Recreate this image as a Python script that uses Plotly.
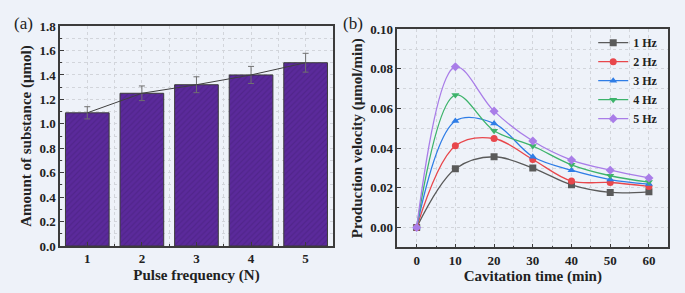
import plotly.graph_objects as go

# Panel (a)
pulse_freq = [1, 2, 3, 4, 5]
amount = [1.09, 1.25, 1.32, 1.40, 1.50]
amount_err = [0.05, 0.06, 0.065, 0.07, 0.077]

# Panel (b)
cav_time = [0, 10, 20, 30, 40, 50, 60]
series_names = ["1 Hz", "2 Hz", "3 Hz", "4 Hz", "5 Hz"]
v_1hz = [0.0, 0.0296, 0.0357, 0.0300, 0.0215, 0.0177, 0.0180]
v_2hz = [0.0, 0.0412, 0.0449, 0.0343, 0.0234, 0.0227, 0.0207]
v_3hz = [0.0, 0.0537, 0.0525, 0.0357, 0.0289, 0.0242, 0.0219]
v_4hz = [0.0, 0.0668, 0.0488, 0.0411, 0.0316, 0.0261, 0.0229]
v_5hz = [0.0, 0.0811, 0.0587, 0.0436, 0.0340, 0.0289, 0.0250]
series_vals = [v_1hz, v_2hz, v_3hz, v_4hz, v_5hz]
colors = ["#5a5a5a", "#e8474c", "#2f7de6", "#3db36b", "#a97de8"]
symbols = ["square", "circle", "triangle-up", "triangle-down", "diamond"]

FONT = "Liberation Serif"
BG = "#eef2f9"
AX = "#3c3c3c"
GRID = "#d2d5db"

fig = go.Figure()

fig.add_trace(go.Bar(
    x=pulse_freq, y=amount, width=0.8,
    marker=dict(color="#5b2a9b", line=dict(color="#3a3a3a", width=1),
                pattern=dict(shape="/", fgcolor="#47207c", size=4, solidity=0.3)),
    error_y=dict(type="data", array=amount_err, color="#707070", thickness=1, width=3),
    xaxis="x", yaxis="y", showlegend=False,
))
fig.add_trace(go.Scatter(
    x=pulse_freq, y=amount, mode="lines",
    line=dict(color="#404040", width=1),
    xaxis="x", yaxis="y", showlegend=False,
))

for name, vals, c, s in zip(series_names, series_vals, colors, symbols):
    fig.add_trace(go.Scatter(
        x=cav_time, y=vals, name=name, mode="lines+markers",
        line=dict(color=c, width=1.3, shape="spline", smoothing=1.0),
        marker=dict(color=c, symbol=s, size=7),
        xaxis="x2", yaxis="y2",
    ))

tickfont = dict(family=FONT, size=13, color="#222", weight="bold")
titlefont = dict(family=FONT, size=15, color="#222", weight="bold")

common = dict(showline=True, linecolor=AX, linewidth=1.5, mirror=True,
              ticks="inside", ticklen=4, tickcolor=AX, tickfont=tickfont,
              showgrid=True, gridcolor=GRID, griddash="dot", gridwidth=1,
              zeroline=False, automargin=False)

fig.update_layout(
    width=685, height=293,
    margin=dict(l=0, r=0, t=0, b=0, autoexpand=False),
    paper_bgcolor=BG, plot_bgcolor=BG,
    font=dict(family=FONT, color="#222"),
    bargap=0.2,
    xaxis=dict(domain=[0.0876, 0.486], anchor="y", range=[0.5, 5.5], dtick=1,
               title=dict(text="Pulse frequency (N)", font=titlefont, standoff=4),
               minor=dict(dtick=0.5, ticks="inside", ticklen=2, tickcolor=AX,
                          showgrid=True, gridcolor=GRID, griddash="dot"),
               **common),
    yaxis=dict(domain=[0.1604, 0.911], anchor="x", range=[0, 1.8], dtick=0.2,
               tickformat=".1f",
               title=dict(text="Amount of substance (μmol)", font=titlefont, standoff=4),
               minor=dict(dtick=0.1, ticks="inside", ticklen=2, tickcolor=AX,
                          showgrid=True, gridcolor=GRID, griddash="dot"),
               **common),
    xaxis2=dict(domain=[0.580, 0.9756], anchor="y2", range=[-5, 65], dtick=10,
                title=dict(text="Cavitation time (min)", font=titlefont, standoff=4),
                minor=dict(dtick=5, ticks="inside", ticklen=2, tickcolor=AX,
                           showgrid=True, gridcolor=GRID, griddash="dot"),
                **common),
    yaxis2=dict(domain=[0.156, 0.900], anchor="x2", range=[-0.01, 0.10], dtick=0.02,
                tick0=0, tickformat=".2f",
                title=dict(text="Production velocity (μmol/min)", font=titlefont, standoff=4),
                minor=dict(dtick=0.01, ticks="inside", ticklen=2, tickcolor=AX,
                           showgrid=True, gridcolor=GRID, griddash="dot"),
                **common),
    legend=dict(x=0.866, y=0.904, xanchor="left", yanchor="top",
                bgcolor="rgba(0,0,0,0)", font=dict(family=FONT, size=12, color="#222", weight="bold"),
                tracegroupgap=0, itemwidth=30),
    annotations=[
        dict(text="(a)", x=23, y=23, xref="paper", yref="paper", showarrow=False,
             xanchor="center", yanchor="middle",
             font=dict(family=FONT, size=17, color="#222")),
        dict(text="(b)", x=353, y=23, xref="paper", yref="paper", showarrow=False,
             xanchor="center", yanchor="middle",
             font=dict(family=FONT, size=17, color="#222")),
    ],
)
# convert pixel positions of the panel labels to paper fractions
for ann in fig.layout.annotations:
    ann.x = ann.x / 685
    ann.y = 1 - ann.y / 293

fig.write_html(
    "out.html",
    config={"displayModeBar": False},
    post_script="document.body.style.margin='0';document.body.style.background='#eef2f9';",
)
